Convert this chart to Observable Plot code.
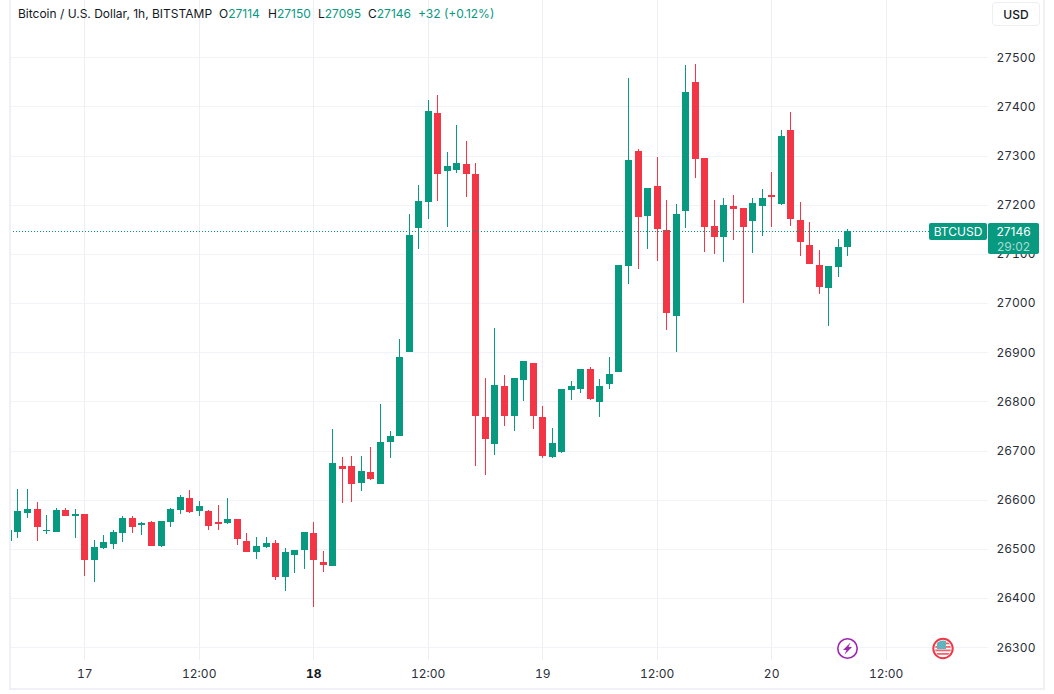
<!DOCTYPE html>
<html>
<head>
<meta charset="utf-8">
<script src="https://cdn.jsdelivr.net/npm/d3@7"></script>
<script src="https://cdn.jsdelivr.net/npm/@observablehq/plot@0.6"></script>
<style>
html,body{margin:0;padding:0;background:#fff;}
#wrap{position:relative;width:1054px;height:694px;overflow:hidden;font-family:Inter,"Noto Sans",sans-serif;}
#wrap svg{display:block;}
.frame{position:absolute;left:9px;top:-3px;width:1032px;height:689px;border:2px solid #f0f0f6;pointer-events:none;}
.h{position:absolute;top:6px;font-size:12px;line-height:16px;white-space:nowrap;color:#131722;}
.g{color:#089981;}
.usd{position:absolute;left:992px;top:2px;width:46px;height:22px;border:1px solid #eceef2;border-radius:4px;background:#fff;text-align:center;font-size:12px;font-weight:500;line-height:23px;color:#131722;}
.tag{position:absolute;background:#089981;color:#fff;border-radius:2px;text-align:center;font-size:12px;}
.icons{position:absolute;left:830px;top:632px;}
</style>
</head>
<body>
<div id="wrap"></div>
<script>
const firstHour = new Date(Date.UTC(2023, 8, 16, 16));
const opens = [26517,26535,26574,26582,26537,26535,26580,26568,26572,26478,26503,26511,26533,26564,26548,26554,26507,26554,26580,26603,26578,26578,26554,26552,26560,26517,26493,26505,26513,26444,26488,26497,26533,26474,26466,26668,26668,26634,26656,26632,26717,26729,26900,27152,27205,27386,27268,27270,27283,27262,26768,26713,26831,26770,26843,26878,26768,26687,26697,26823,26825,26866,26799,26835,26860,27076,27309,27177,27238,27149,26974,27187,27450,27295,27157,27135,27198,27194,27167,27198,27220,27202,27352,27169,27118,27078,27031,27074,27114];
const highs = [26539,26621,26621,26595,26570,26584,26584,26582,26572,26519,26529,26539,26568,26568,26554,26556,26556,26584,26609,26619,26597,26580,26590,26603,26560,26533,26525,26525,26519,26501,26497,26535,26554,26495,26744,26687,26689,26689,26707,26795,26740,26927,27181,27240,27413,27423,27307,27362,27329,27285,26847,26949,26854,26847,26882,26878,26790,26746,26825,26841,26866,26870,26845,26890,27077,27458,27314,27234,27297,27210,27202,27484,27486,27295,27210,27214,27220,27194,27214,27232,27267,27352,27389,27206,27165,27108,27076,27130,27150];
const lows = [26517,26523,26564,26517,26531,26535,26568,26523,26446,26433,26499,26499,26515,26533,26529,26507,26505,26544,26572,26574,26568,26539,26539,26550,26509,26493,26480,26503,26437,26415,26452,26460,26382,26454,26466,26593,26595,26618,26640,26632,26685,26729,26900,27110,27171,27207,27155,27264,27216,26668,26650,26691,26750,26740,26801,26744,26685,26685,26695,26803,26817,26803,26768,26825,26860,27039,27069,27110,27086,26945,26901,27153,27255,27104,27100,27084,27128,27000,27102,27137,27155,27200,27157,27096,27080,27019,26954,27053,27095];
const closes = [26539,26578,26582,26544,26539,26580,26568,26572,26478,26505,26515,26535,26562,26544,26552,26507,26556,26582,26605,26576,26588,26546,26550,26560,26521,26493,26507,26513,26444,26493,26497,26535,26478,26468,26674,26662,26632,26658,26642,26717,26729,26890,27138,27207,27391,27262,27279,27285,27262,26770,26723,26833,26770,26847,26882,26770,26689,26715,26825,26831,26866,26805,26831,26856,27077,27291,27175,27234,27151,26980,27181,27429,27293,27155,27135,27200,27192,27155,27204,27214,27216,27340,27171,27124,27080,27033,27076,27114,27146];
const priceTicks = [26300,26400,26500,26600,26700,26800,26900,27000,27100,27200,27300,27400,27500];
const timeTicks = [new Date(Date.UTC(2023,8,17,0)),new Date(Date.UTC(2023,8,17,12)),new Date(Date.UTC(2023,8,18,0)),new Date(Date.UTC(2023,8,18,12)),new Date(Date.UTC(2023,8,19,0)),new Date(Date.UTC(2023,8,19,12)),new Date(Date.UTC(2023,8,20,0)),new Date(Date.UTC(2023,8,20,12))];
const boldTick = [timeTicks[2]];
const regularTicks = timeTicks.filter(d => d !== timeTicks[2]);
const lastClose = 27146;
const xDomain = [new Date(Date.UTC(2023,8,16,16,13)), new Date(Date.UTC(2023,8,20,22,44))];
const yDomain = [26274.2, 27616.5];
const up = "#089981", down = "#F23645";

const candles = opens.map((o,i) => ({time:d3.utcHour.offset(firstHour,i),open:o,high:highs[i],low:lows[i],close:closes[i]}));
const col = d => d.close >= d.open ? up : down;
const tickFmt = d => d.getUTCHours() === 0 ? String(d.getUTCDate()) : "12:00";

const chart = Plot.plot({
  width:1054, height:694,
  marginLeft:10, marginRight:66, marginTop:0, marginBottom:34,
  style:{fontFamily:"Inter, sans-serif",fontSize:"12px",background:"transparent",color:"#2a2e39"},
  x:{type:"utc",domain:xDomain,axis:null},
  y:{domain:yDomain,axis:null},
  marks:[
    Plot.ruleY(priceTicks,{stroke:"#f2f3f6",strokeWidth:1,shapeRendering:"crispEdges"}),
    Plot.ruleX(timeTicks,{stroke:"#eeeff3",strokeWidth:1,shapeRendering:"crispEdges"}),
    Plot.axisY(priceTicks,{anchor:"right",tickSize:0,tickPadding:8,textAnchor:"start",tickFormat:"d",label:null,fill:"#2a2e39"}),
    Plot.axisX(regularTicks,{anchor:"bottom",tickSize:0,tickPadding:9,tickFormat:tickFmt,label:null,fill:"#2a2e39"}),
    Plot.axisX(boldTick,{anchor:"bottom",tickSize:0,tickPadding:9,tickFormat:tickFmt,label:null,fill:"#131722",fontWeight:"bold"}),
    Plot.ruleX(candles,{x:"time",y1:"low",y2:"high",stroke:col,strokeWidth:1,clip:true,shapeRendering:"crispEdges"}),
    Plot.ruleX(candles,{x:"time",y1:"open",y2:"close",stroke:col,strokeWidth:7,clip:true,shapeRendering:"crispEdges"}),
    Plot.ruleY([lastClose],{stroke:up,strokeWidth:1,strokeDasharray:"1 2",shapeRendering:"crispEdges"})
  ]
});
const wrap = document.getElementById("wrap");
wrap.appendChild(chart);

const add = (cls,html,style) => {
  const d=document.createElement("div");d.className=cls;d.innerHTML=html;
  if(style)d.style.cssText=style;wrap.appendChild(d);return d;
};
add("frame","");
add("h","Bitcoin / U.S. Dollar, 1h, BITSTAMP","left:18px");
add("h",'O<span class="g">27114</span>',"left:219px");
add("h",'H<span class="g">27150</span>',"left:268px");
add("h",'L<span class="g">27095</span>',"left:318px");
add("h",'C<span class="g">27146</span>',"left:368px");
add("h",'<span class="g">+32 (+0.12%)</span>',"left:418px");
add("usd","USD");
add("tag","BTCUSD","left:929px;top:223px;width:58px;height:17px;line-height:17px");
add("tag",'27146<br><span style="color:#a9dccf">29:02</span>',"left:988px;top:224px;width:51px;height:30px;line-height:15px;box-shadow:0 -1px 0 #089981");
add("icons",`<svg width="130" height="34" viewBox="0 0 130 34">
<defs><clipPath id="cf"><circle cx="113" cy="16.5" r="8"/></clipPath></defs>
<circle cx="17.5" cy="16.5" r="9.7" fill="#fff" stroke="#9C27B0" stroke-width="1.6"/>
<path d="M20.5 10.5 L13 18 L16.5 18 L14.5 22.5 L22 15 L18.5 15 Z" fill="#9C27B0"/>
<circle cx="113" cy="16.5" r="9.7" fill="#fff" stroke="#F23645" stroke-width="2"/>
<g clip-path="url(#cf)">
<rect x="105" y="8" width="16" height="17" fill="#fff"/>
<rect x="105" y="10.5" width="16" height="1.8" fill="#F6636B"/>
<rect x="105" y="14" width="16" height="1.8" fill="#F6636B"/>
<rect x="105" y="17.5" width="16" height="1.8" fill="#F6636B"/>
<rect x="105" y="21" width="16" height="1.8" fill="#F6636B"/>
<rect x="107" y="8" width="9" height="9" fill="#5FB4BE"/>
</g></svg>`);
</script>
</body>
</html>
